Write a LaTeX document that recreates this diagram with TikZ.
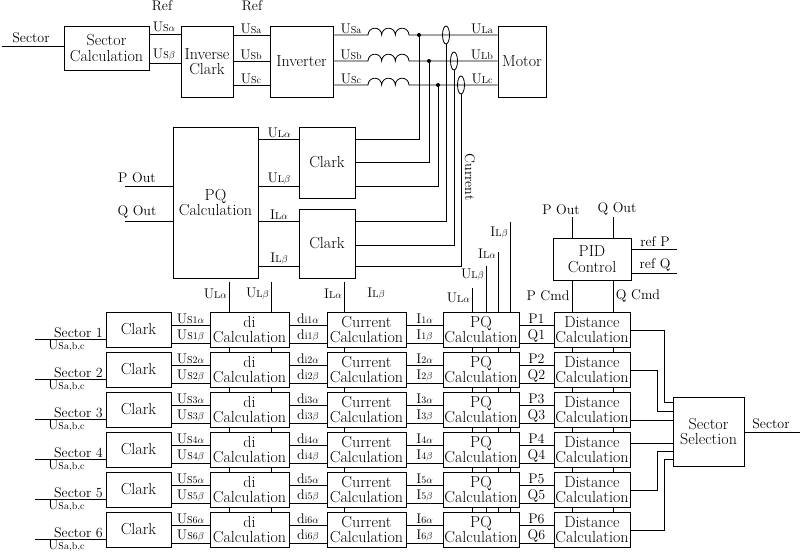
\documentclass[tikz,border=0pt]{standalone}
\usepackage{fontspec}
\tikzset{
  blk/.style = {draw, fill=white, thick, align=center, inner sep=0pt,
                font=\fontsize{16}{15.5}\selectfont},
  lab/.style = {font=\fontsize{14}{14}\selectfont, inner sep=1pt},
  wire/.style = {thick}
}
\newcommand\sub[2]{#1{\fontsize{10}{10}\selectfont #2}}

\begin{document}
\begin{tikzpicture}[x=1pt,y=-1pt]
	\useasboundingbox (0,0) rectangle (800,554);

	% Top chain
	\node[blk, minimum width=85, minimum height=44] (sc)  at (106.5,48) {Sector\\Calculation};
	\node[blk, minimum width=52, minimum height=71] (ic)  at (207,61.5) {Inverse\\Clark};
	\node[blk, minimum width=63, minimum height=71] (inv) at (301.5,61.5) {Inverter};
	\node[blk, minimum width=48, minimum height=71] (mot) at (522,61.5) {Motor};
	\coordinate (sin) at (2,46);
	\draw[wire] (sin) -- (sc.west|-sin);
	\node[lab, anchor=south] at (31,44) {Sector};

	\draw[wire] (sc.east|-0,34) -- (ic.west|-0,34);
	\draw[wire] (sc.east|-0,63) -- (ic.west|-0,63);
	\node[lab, anchor=south] at (164,33) {\sub{U}{S$\alpha$}};
	\node[lab, anchor=south] at (164,62) {\sub{U}{S$\beta$}};
	\node[lab] at (162,6) {Ref};
	\node[lab] at (252,6) {Ref};

	\foreach \y/\p/\d/\o in {35/a/419/446, 61/b/429/454, 85/c/438/461}{
		\draw[wire] (ic.east|-0,\y) -- (inv.west|-0,\y);
		\node[lab, anchor=south] at (251,\y) {\sub{U}{S\p}};
		\node[lab, anchor=south] at (351,\y) {\sub{U}{S\p}};
		\node[lab, anchor=south] at (482,\y) {\sub{U}{L\p}};
		\draw[wire] (inv.east|-0,\y) -- (368,\y)
			arc[start angle=180,end angle=360,radius=6.83]
			arc[start angle=180,end angle=360,radius=6.83]
			arc[start angle=180,end angle=360,radius=6.83]
			-- (mot.west|-0,\y);
		\fill (\d,\y) circle (2);
		\draw[wire] (\o,\y) ellipse [x radius=3.5, y radius=9];
	}

	% Measurement
	\node[blk, minimum width=85, minimum height=151] (pqm) at (215.5,202.5) {PQ\\Calculation};
	\node[blk, minimum width=56, minimum height=71] (clu) at (327,162.5) {Clark};
	\node[blk, minimum width=56, minimum height=69] (cli) at (327,243.5) {Clark};
	\draw[wire] (pqm.east|-0,139) -- (clu.west|-0,139);
	\draw[wire] (pqm.east|-0,186) -- (clu.west|-0,186);
	\draw[wire] (pqm.east|-0,221) -- (cli.west|-0,221);
	\draw[wire] (pqm.east|-0,266) -- (cli.west|-0,266);
	\node[lab, anchor=south] at (279,139) {\sub{U}{L$\alpha$}};
	\node[lab, anchor=south] at (279,186) {\sub{U}{L$\beta$}};
	\node[lab, anchor=south] at (279,221) {\sub{I}{L$\alpha$}};
	\node[lab, anchor=south] at (279,266) {\sub{I}{L$\beta$}};
	\draw[wire] (clu.east|-0,139) -- (419,139) -- (419,35);
	\draw[wire] (clu.east|-0,162) -- (429,162) -- (429,61);
	\draw[wire] (clu.east|-0,186) -- (438,186) -- (438,85);
	\draw[wire] (cli.east|-0,221) -- (446,221) -- (446,44);
	\draw[wire] (cli.east|-0,245) -- (454,245) -- (454,70);
	\draw[wire] (cli.east|-0,266) -- (461,266) -- (461,94);
	\node[lab, rotate=-90] at (470,177) {Current};
	\draw[wire] (125,186) -- (pqm.west|-0,186);
	\draw[wire] (125,221) -- (pqm.west|-0,221);
	\node[lab, anchor=south] at (137,184) {P Out};
	\node[lab, anchor=south] at (137,219) {Q Out};

	% Buses through the sector rows
	\foreach \x/\t in {229/282, 271/282, 344/282, 472/288, 486/266, 498/252, 510/222}
		\draw[wire] (\x,\t) -- (\x,547);
	\node[lab, anchor=east] at (228,294) {\sub{U}{L$\alpha$}};
	\node[lab, anchor=east] at (270,294) {\sub{U}{L$\beta$}};
	\node[lab, anchor=east] at (343,294) {\sub{I}{L$\alpha$}};
	\node[lab] at (376,294) {\sub{I}{L$\beta$}};
	\node[lab, anchor=east] at (471,298) {\sub{U}{L$\alpha$}};
	\node[lab, anchor=east] at (485,275) {\sub{U}{L$\beta$}};
	\node[lab, anchor=east] at (497,254) {\sub{I}{L$\alpha$}};
	\node[lab, anchor=east] at (509,233) {\sub{I}{L$\beta$}};

	% PID
	\node[blk, minimum width=78, minimum height=42] (pid) at (592,259) {PID\\Control};
	\draw[wire] (572,217) -- (pid.north-|572,0);
	\draw[wire] (613,217) -- (pid.north-|613,0);
	\node[lab, anchor=south] at (561,216) {P Out};
	\node[lab, anchor=south] at (617,216) {Q Out};
	\draw[wire] (pid.east|-0,249) -- (677,249);
	\draw[wire] (pid.east|-0,273) -- (677,273);
	\node[lab, anchor=south] at (655,248) {ref P};
	\node[lab, anchor=south] at (655,272) {ref Q};
	\draw[wire] (572,280) -- (572,547);
	\draw[wire] (613,280) -- (613,547);
	\node[lab] at (548,296) {P Cmd};
	\node[lab] at (638,296) {Q Cmd};

	% Sector rows
	\node[blk, minimum width=71, minimum height=69] (sel) at (708.5,431.5) {Sector\\Selection};
	\coordinate (sout) at (800,432);
	\draw[wire] (sel.east|-sout) -- (sout);
	\node[lab, anchor=south] at (771,430) {Sector};
	\foreach \i in {1,...,6}{
		\pgfmathsetmacro\t{312+40*(\i-1)}
		\pgfmathsetmacro\c{\t+17.5}
		\pgfmathsetmacro\ya{\t+13}
		\pgfmathsetmacro\yb{\t+31}
		\pgfmathsetmacro\ys{\t+27}
		\node[blk, minimum width=65, minimum height=35] (clk\i) at (138.5,\c) {Clark};
		\node[blk, minimum width=79, minimum height=35] (di\i)  at (249.5,\c) {di\\Calculation};
		\node[blk, minimum width=79, minimum height=35] (cur\i) at (366.5,\c) {Current\\Calculation};
		\node[blk, minimum width=76, minimum height=35] (pq\i)  at (481,\c) {PQ\\Calculation};
		\node[blk, minimum width=76, minimum height=35] (dst\i) at (592,\c) {Distance\\Calculation};
		\draw[wire] (35,\ys) -- (clk\i.west|-0,\ys);
		\node[lab, anchor=south east] at (104,\ys) {Sector \i};
		\node[lab, anchor=north west] at (47,\ys) {\sub{U}{Sa,b,c}};
		\foreach \y/\g in {\ya/$\alpha$, \yb/$\beta$}{
			\draw[wire] (clk\i.east|-0,\y) -- (di\i.west|-0,\y);
			\draw[wire] (di\i.east|-0,\y) -- (cur\i.west|-0,\y);
			\draw[wire] (cur\i.east|-0,\y) -- (pq\i.west|-0,\y);
			\draw[wire] (pq\i.east|-0,\y) -- (dst\i.west|-0,\y);
			\node[lab, anchor=south] at (190.5,\y) {\sub{U}{S\i\g}};
			\node[lab, anchor=south] at (308,\y) {\sub{d}{i\i\g}};
			\node[lab, anchor=south] at (424.5,\y) {\sub{I}{\i\g}};
		}
		\node[lab, anchor=south] at (536.5,\ya) {P\i};
		\node[lab, anchor=south] at (536.5,\yb) {Q\i};
	}
	% Distances to selection
	\draw[wire] (dst1.east|-0,330) -- (664,330) -- (664,402) -- (sel.west|-0,402);
	\draw[wire] (dst2.east|-0,370) -- (657,370) -- (657,411) -- (sel.west|-0,411);
	\draw[wire] (dst3.east|-0,420) -- (sel.west|-0,420);
	\draw[wire] (dst4.east|-0,443) -- (sel.west|-0,443);
	\draw[wire] (dst5.east|-0,490) -- (657,490) -- (657,451) -- (sel.west|-0,451);
	\draw[wire] (dst6.east|-0,530) -- (664,530) -- (664,459) -- (sel.west|-0,459);
\end{tikzpicture}
\end{document}
